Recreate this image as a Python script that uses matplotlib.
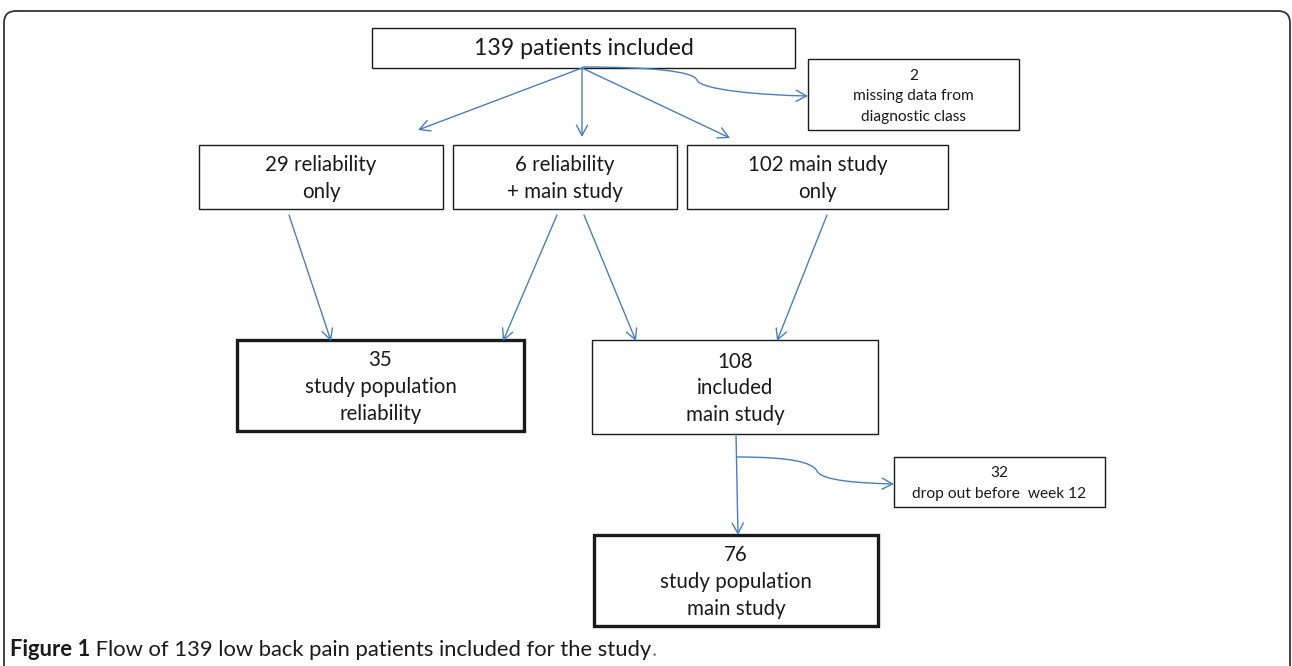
import matplotlib
matplotlib.use("Agg")
import matplotlib.pyplot as plt
from matplotlib.patches import Rectangle, FancyArrowPatch, FancyBboxPatch
from matplotlib.path import Path

plt.rcParams['font.family'] = ['Lato', 'DejaVu Sans']

# flow counts and labels
counts = [139, 2, 29, 6, 102, 35, 108, 32, 76]
labels = [
    "139 patients included",
    "2\nmissing data from\ndiagnostic class",
    "29 reliability\nonly",
    "6 reliability\n+ main study",
    "102 main study\nonly",
    "35\nstudy population\nreliability",
    "108\nincluded\nmain study",
    "32\ndrop out before  week 12",
    "76\nstudy population\nmain study",
]
caption_bold = "Figure 1"
caption_text = " Flow of 139 low back pain patients included for the study"

# layout (pixels): x0, y0, x1, y1, font size, thick border
layout = [
    (372, 28, 795, 68, 16.7, False),
    (808, 59, 1019, 130, 11.2, False),
    (199, 145, 443, 209, 14.8, False),
    (453, 145, 677, 209, 14.8, False),
    (687, 145, 948, 209, 14.8, False),
    (237, 340, 524, 431, 14.8, True),
    (592, 340, 878, 434, 14.8, False),
    (894, 457, 1105, 507, 11.2, False),
    (594, 535, 878, 626, 14.8, True),
]

straight = [
    ((582, 68), (418, 130)),
    ((582, 68), (582, 137)),
    ((582, 68), (730, 138)),
    ((289, 215), (331, 341)),
    ((557, 215), (503, 341)),
    ((584, 215), (636, 341)),
    ((827, 215), (777, 341)),
    ((736, 434), (738, 535)),
]

blue = '#4a7ebb'
ink = '#1a1a1a'

fig = plt.figure(figsize=(12.92, 6.66), dpi=100)
ax = fig.add_axes([0, 0, 1, 1])
ax.set_xlim(0, 1292)
ax.set_ylim(666, 0)
ax.axis('off')

# outer frame
frame = FancyBboxPatch((4, 11), 1286, 700, boxstyle="round,pad=0,rounding_size=12",
                       fc='none', ec='#333333', lw=1.3, clip_on=False)
ax.add_patch(frame)

for lab, (x0, y0, x1, y1, fs, thick) in zip(labels, layout):
    ax.add_patch(Rectangle((x0, y0), x1 - x0, y1 - y0, fc='white',
                           ec=ink, lw=2.4 if thick else 1.0))
    lines = lab.split("\n")
    small = fs < 12
    pitch = 20.5 if small else 26.8
    off = 5.5 if small else 7.3
    cy = (y0 + y1) / 2 + off
    n = len(lines)
    for i, line in enumerate(lines):
        ax.text((x0 + x1) / 2, cy + (i - (n - 1) / 2) * pitch, line,
                ha='center', va='baseline', fontsize=fs, color=ink)

astyle = '->,head_length=0.75,head_width=0.4'
for p0, p1 in straight:
    ax.add_patch(FancyArrowPatch(p0, p1, arrowstyle=astyle, mutation_scale=10,
                                 color=blue, lw=1.0, shrinkA=0, shrinkB=0))

# brace-like curved side arrows
def side_arrow(pts):
    codes = [Path.MOVETO, Path.CURVE4, Path.CURVE4, Path.CURVE4,
             Path.CURVE4, Path.CURVE4, Path.CURVE4]
    ax.add_patch(FancyArrowPatch(path=Path(pts, codes), arrowstyle=astyle,
                                 mutation_scale=10, color=blue, lw=1.0,
                                 shrinkA=0, shrinkB=0))

side_arrow([(583, 67), (650, 67), (693, 71), (697, 80),
            (701, 90), (760, 95), (808, 96)])
side_arrow([(737, 457), (790, 457), (812, 462), (817, 471),
            (822, 481), (860, 483), (894, 484)])

# caption
cfs = 15.8
cy = 656
t = ax.text(10, cy, caption_bold, ha='left', va='baseline', fontsize=cfs,
            fontweight='bold', color=ink)
fig.canvas.draw()
bb = t.get_window_extent().transformed(ax.transData.inverted())
t2 = ax.text(bb.x1, cy, caption_text, ha='left', va='baseline', fontsize=cfs,
             color=ink)
fig.canvas.draw()
bb2 = t2.get_window_extent().transformed(ax.transData.inverted())
ax.text(bb2.x1, cy, ".", ha='left', va='baseline', fontsize=cfs, color='#888888')

fig.savefig('out.png', dpi=100)
